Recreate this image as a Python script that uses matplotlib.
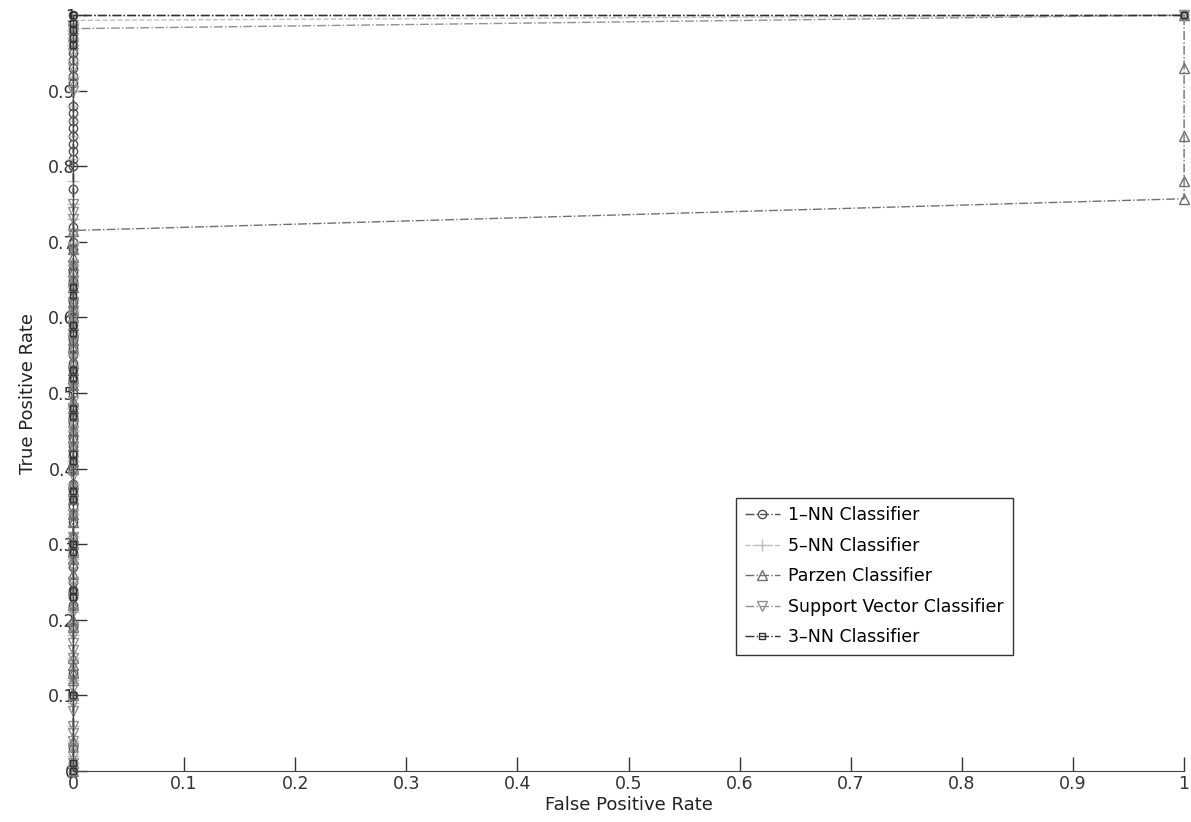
import numpy as np
import matplotlib
matplotlib.use("Agg")
import matplotlib.pyplot as plt

# ROC points (false positive rate, true positive rate) per classifier
tpr_1nn = [0.0, 0.01, 0.03, 0.10, 0.13, 0.19, 0.22, 0.23, 0.24, 0.25, 0.27, 0.29,
           0.30, 0.31, 0.33, 0.34, 0.35, 0.36, 0.37, 0.38, 0.40, 0.41, 0.42, 0.43,
           0.44, 0.45, 0.46, 0.47, 0.48, 0.50, 0.51, 0.52, 0.53, 0.54, 0.55, 0.56,
           0.57, 0.58, 0.59, 0.60, 0.61, 0.62, 0.64, 0.65, 0.66, 0.67, 0.69, 0.70,
           0.72, 0.77, 0.80, 0.81, 0.82, 0.83, 0.84, 0.85, 0.86, 0.87, 0.88, 0.91,
           0.92, 0.93, 0.94, 0.95, 0.96, 0.97, 0.98, 0.99, 1.0, 1.0]
fpr_1nn = [0.0] * (len(tpr_1nn) - 1) + [1.0]

tpr_5nn = [0.0, 0.01, 0.02, 0.04, 0.06, 0.09, 0.12, 0.15, 0.18, 0.21, 0.25, 0.28,
           0.31, 0.34, 0.38, 0.41, 0.45, 0.48, 0.51, 0.55, 0.58, 0.61, 0.64, 0.67,
           0.70, 0.73, 0.75, 0.78, 0.81, 0.84, 0.86, 0.88, 0.90, 0.92, 0.94, 0.96,
           0.97, 0.98, 0.99, 0.993, 1.0]
fpr_5nn = [0.0] * (len(tpr_5nn) - 1) + [1.0]

tpr_parzen = [0.0, 0.01, 0.04, 0.10, 0.12, 0.13, 0.14, 0.15, 0.19, 0.20, 0.22,
              0.24, 0.26, 0.28, 0.29, 0.30, 0.31, 0.33, 0.34, 0.36, 0.37, 0.38,
              0.40, 0.41, 0.43, 0.44, 0.45, 0.47, 0.48, 0.49, 0.51, 0.52, 0.53,
              0.54, 0.56, 0.57, 0.58, 0.59, 0.60, 0.61, 0.62, 0.63, 0.64, 0.65,
              0.66, 0.67, 0.68, 0.69, 0.715, 0.757, 0.78, 0.84, 0.93, 1.0]
fpr_parzen = [0.0] * 49 + [1.0, 1.0, 1.0, 1.0, 1.0]

tpr_svc = [0.0, 0.01, 0.02, 0.03, 0.04, 0.05, 0.06, 0.08, 0.09, 0.11, 0.12, 0.14,
           0.15, 0.16, 0.17, 0.18, 0.19, 0.21, 0.23, 0.25, 0.27, 0.28, 0.29, 0.31,
           0.34, 0.36, 0.37, 0.39, 0.41, 0.43, 0.45, 0.46, 0.48, 0.49, 0.51, 0.53,
           0.55, 0.57, 0.59, 0.60, 0.62, 0.64, 0.65, 0.67, 0.69, 0.71, 0.73, 0.74,
           0.75, 0.90, 0.91, 0.93, 0.95, 0.96, 0.97, 0.98, 0.982, 1.0]
fpr_svc = [0.0] * (len(tpr_svc) - 1) + [1.0]

tpr_3nn = [0.0, 0.01, 0.10, 0.23, 0.24, 0.29, 0.30, 0.36, 0.37, 0.41, 0.42, 0.47,
           0.48, 0.52, 0.53, 0.58, 0.59, 0.63, 0.64, 0.96, 0.97, 0.98, 0.99, 1.0,
           1.0]
fpr_3nn = [0.0] * (len(tpr_3nn) - 1) + [1.0]

fig = plt.figure(figsize=(11.91, 8.22), dpi=100)
ax = fig.add_axes([0.0613, 0.062, 0.9329, 0.9197])

ax.plot(fpr_1nn, tpr_1nn, '-.', marker='o', color='#505050', lw=1.0, ms=6,
        mfc='none', label='1\u2013NN Classifier')
ax.plot(fpr_5nn, tpr_5nn, '--', marker='+', color='#c0c0c0', lw=1.0, ms=8,
        label='5\u2013NN Classifier')
ax.plot(fpr_parzen, tpr_parzen, '-.', marker='^', color='#707070', lw=1.0, ms=7,
        mfc='none', label='Parzen Classifier')
ax.plot(fpr_svc, tpr_svc, '-.', marker='v', color='#909090', lw=1.0, ms=7,
        mfc='none', label='Support Vector Classifier')
ax.plot(fpr_3nn, tpr_3nn, '-.', marker='s', color='#303030', lw=1.0, ms=5,
        mfc='none', label='3\u2013NN Classifier')

ax.set_xlim(0, 1)
ax.set_ylim(0, 1)
ax.set_xticks(np.arange(0, 1.01, 0.1))
ax.set_yticks(np.arange(0, 1.01, 0.1))
ax.set_xticklabels(['0', '0.1', '0.2', '0.3', '0.4', '0.5', '0.6', '0.7', '0.8', '0.9', '1'])
ax.set_yticklabels(['0', '0.1', '0.2', '0.3', '0.4', '0.5', '0.6', '0.7', '0.8', '0.9', '1'])
ax.tick_params(direction='in', length=10, width=1, labelsize=12.5, colors='#333333')
ax.tick_params(axis='y', pad=-2)
ax.tick_params(axis='x', pad=3)
for side in ('top', 'right'):
    ax.spines[side].set_visible(False)
for side in ('left', 'bottom'):
    ax.spines[side].set_color('#444444')
for line in ax.lines:
    line.set_clip_on(False)

ax.set_xlabel('False Positive Rate', fontsize=13, color='#222222', labelpad=2)
ax.set_ylabel('True Positive Rate', fontsize=13, color='#222222', labelpad=8)

leg = ax.legend(loc='lower left', bbox_to_anchor=(0.589, 0.142), fontsize=12.5,
                frameon=True, fancybox=False, framealpha=1, borderpad=0.5,
                labelspacing=0.72, handlelength=2.0, handletextpad=0.5)
leg.get_frame().set_edgecolor('#333333')
leg.get_frame().set_linewidth(1.0)

fig.savefig('out.png', dpi=100, facecolor='white')
